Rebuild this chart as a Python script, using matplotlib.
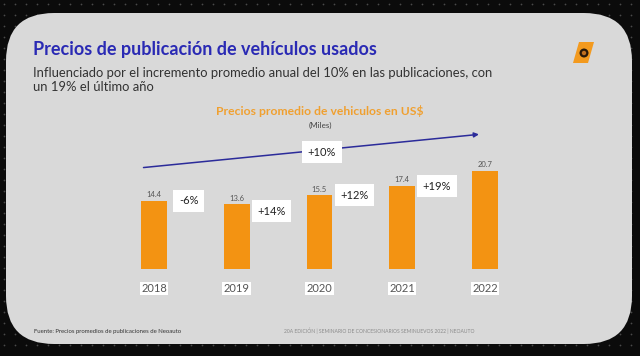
import numpy as np
import matplotlib
matplotlib.use('Agg')
import matplotlib.pyplot as plt
from matplotlib.patches import FancyBboxPatch, Polygon, Circle

# datos
years = ['2018', '2019', '2020', '2021', '2022']
prices = [14.4, 13.6, 15.5, 17.4, 20.7]
changes = ['-6%', '+14%', '+12%', '+19%']
trend_label = '+10%'

title = 'Precios de publicación de vehículos usados'
subtitle = ('Influenciado por el incremento promedio anual del 10% en las publicaciones, con\n'
            'un 19% el último año')
chart_title = 'Precios promedio de vehiculos en US$'
unit_label = '(Miles)'
source = 'Fuente: Precios promedios de publicaciones de Neoauto'
footer = '20A EDICIÓN | SEMINARIO DE CONCESIONARIOS SEMINUEVOS 2022 | NEOAUTO'

plt.rcParams['font.family'] = ['Lato', 'DejaVu Sans']

W, H = 640, 356
fig = plt.figure(figsize=(W / 100, H / 100), dpi=100)
fig.patch.set_facecolor('#0b0b0b')

# fondo en coordenadas de pixel
bg = fig.add_axes([0, 0, 1, 1])
bg.set_xlim(0, W)
bg.set_ylim(H, 0)
bg.axis('off')

# textura de puntos del fondo oscuro
gx, gy = np.meshgrid(np.arange(4, W, 11), np.arange(4, H, 11))
bg.scatter(gx.ravel(), gy.ravel(), s=1.6, color='#4a4a4a', lw=0, zorder=0)

panel = FancyBboxPatch((6, 13), 626, 331, boxstyle='round,pad=0,rounding_size=48',
                       facecolor='#d9d9d9', edgecolor='none', zorder=1)
bg.add_patch(panel)

bg.text(33, 50, title, color='#2a2ab4', fontsize=13, fontweight='bold', va='center', zorder=3)
bg.text(33, 80, subtitle, color='#333333', fontsize=9.4, va='center', linespacing=1.2, zorder=3)
bg.text(320, 111, chart_title, color='#f0a030', fontsize=8.7, fontweight='bold',
        ha='center', va='center', zorder=3)
bg.text(320, 125, unit_label, color='#444444', fontsize=5.8, ha='center', va='center', zorder=3)
bg.text(34, 331, source, color='#333333', fontsize=4.3, va='center', zorder=3)
bg.text(474, 331, footer, color='#8a8a8a', fontsize=3.6, ha='right', va='center', zorder=3)

# logo
bg.add_patch(Polygon([(579, 42), (594, 42), (588, 63), (573, 63)], closed=True,
                     facecolor='#f39a1e', edgecolor='none', zorder=3))
bg.add_patch(Circle((584, 53), 4.5, facecolor='#2a1a0a', edgecolor='none', zorder=4))
bg.add_patch(Circle((584, 53), 2.2, facecolor='#c07020', edgecolor='none', zorder=5))

# grafico de barras
x = np.arange(len(years))
base_px = 269
px_per_unit = 4.75
ymax = 25
ax = fig.add_axes([112.6 / W, (H - base_px) / H, 413.8 / W, ymax * px_per_unit / H])
ax.set_xlim(-0.5, 4.5)
ax.set_ylim(0, ymax)
ax.patch.set_alpha(0)
for s in ax.spines.values():
    s.set_visible(False)
ax.set_yticks([])

ax.bar(x, prices, width=0.31, color='#f39312', zorder=2)
for i, v in enumerate(prices):
    ax.text(i, v + 0.6, f'{v:.1f}', ha='center', va='bottom', fontsize=5.5, color='#555555')

ax.set_xticks(x)
ax.set_xticklabels(years, fontsize=8, color='#555555')
ax.tick_params(axis='x', length=0, pad=10)
for lbl in ax.get_xticklabels():
    lbl.set_bbox(dict(facecolor='white', edgecolor='none', pad=1))

offs = [0, -1.4, 0, 0]
for i, c in enumerate(changes):
    ax.text(i + 0.42, prices[i] + offs[i], c, ha='center', va='center', fontsize=8,
            color='#222222', bbox=dict(facecolor='white', edgecolor='none', pad=4))

# flecha de tendencia
ax.annotate('', xy=(3.96, 28.4), xytext=(-0.16, 21.3),
            arrowprops=dict(arrowstyle='-|>', color='#2b2b9a', lw=1.1, mutation_scale=7),
            annotation_clip=False)
ax.text(2.03, 24.6, trend_label, ha='center', va='center', fontsize=8, color='#222222',
        bbox=dict(facecolor='white', edgecolor='none', pad=4), zorder=5, clip_on=False)

fig.savefig('out.png', dpi=100, facecolor=fig.get_facecolor())
